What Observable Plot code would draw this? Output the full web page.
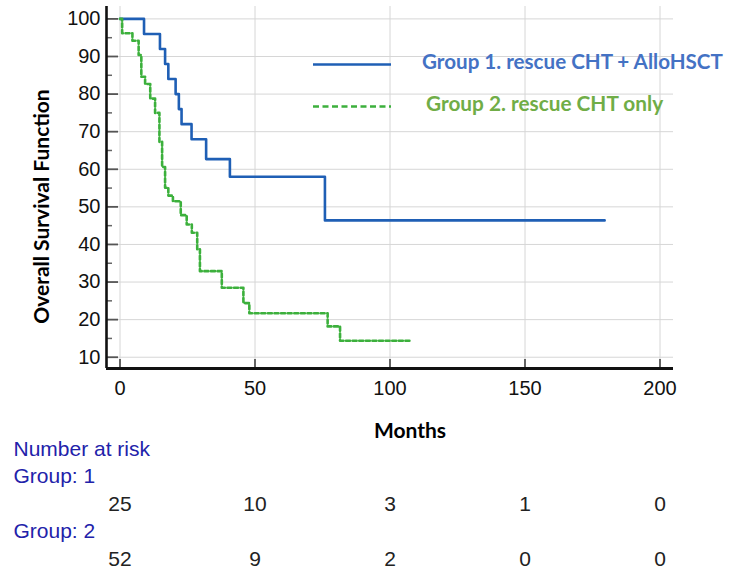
<!DOCTYPE html>
<html><head><meta charset="utf-8">
<script src="https://cdn.jsdelivr.net/npm/d3@7"></script>
<script src="https://cdn.jsdelivr.net/npm/@observablehq/plot@0.6"></script>
<style>
body{margin:0;background:#fff;}
#wrap{position:relative;width:729px;height:580px;}
#legend{position:absolute;left:0;top:0;}
</style></head><body>
<div id="wrap"></div>
<script>
// Group 1: rescue CHT + AlloHSCT (months, survival %)
const g1Time = [0, 8.9, 14.8, 16.7, 17.9, 20.6, 21.8, 22.8, 26.5, 31.9, 40.7, 75.9, 179.5];
const g1Surv = [100, 96, 92, 88, 84, 80, 76, 72, 68, 62.7, 58.0, 46.4, 46.4];
// Group 2: rescue CHT only
const g2Time = [0, 0.8, 4.6, 6.9, 7.9, 9.3, 11.2, 13.0, 14.6, 15.6, 16.7, 17.9, 19.6, 22.5, 24.7, 26.6, 28.6, 29.6, 37.7, 45.7, 47.9, 76.9, 81.5, 108];
const g2Surv = [100, 96.2, 94.2, 90.4, 84.6, 82.7, 78.8, 75.0, 67.3, 60.6, 55.1, 53.0, 51.5, 47.8, 45.3, 43.1, 38.7, 32.9, 28.5, 24.4, 21.7, 18.2, 14.4, 14.4];
// Number at risk
const riskTimes = [0, 50, 100, 150, 200];
const risk1 = [25, 10, 3, 1, 0];
const risk2 = [52, 9, 2, 0, 0];
// Ticks
const xTicks = [0, 50, 100, 150, 200];
const yTicks = [10, 20, 30, 40, 50, 60, 70, 80, 90, 100];
const yMinor = [15, 25, 35, 45, 55, 65, 75, 85, 95];
const legendLabels = ["Group 1. rescue CHT + AlloHSCT", "Group 2. rescue CHT only"];

const W = 729, H = 580, mL = 106, mT = 6, mR = 56, mB = 212;
const fW = W - mL - mR, fH = H - mT - mB;
const xDom = [-5, 205], yDom = [7, 103.3];
const blue = "#1f5fb5", green = "#3cb03c";
const sans = "'Liberation Sans', Arial, sans-serif";
const cal = "Lato, 'Open Sans', sans-serif";

const g1 = g1Time.map((t, i) => ({t, s: g1Surv[i]}));
const g2 = g2Time.map((t, i) => ({t, s: g2Surv[i]}));
const r1 = riskTimes.map((t, i) => ({t, n: risk1[i]}));
const r2 = riskTimes.map((t, i) => ({t, n: risk2[i]}));

const plot = Plot.plot({
  width: W, height: H,
  marginLeft: mL, marginTop: mT, marginRight: mR, marginBottom: mB,
  style: {fontFamily: sans, fontSize: "20px", background: "#fff", color: "#111", overflow: "visible"},
  x: {domain: xDom, label: null},
  y: {domain: yDom, label: null},
  marks: [
    Plot.gridY(yTicks, {stroke: "#d6d6d6", strokeOpacity: 1, strokeWidth: 1}),
    Plot.gridX(xTicks, {stroke: "#d6d6d6", strokeOpacity: 1, strokeWidth: 1}),
    Plot.ruleY(yTicks, {insetRight: fW - 12, stroke: "#555", strokeWidth: 1.8}),
    Plot.ruleY(yMinor, {insetRight: fW - 6, stroke: "#666", strokeWidth: 1.5}),
    Plot.ruleX(xTicks, {insetTop: fH - 9, stroke: "#555", strokeWidth: 1.8}),
    Plot.line(g1, {x: "t", y: "s", curve: "step-after", stroke: blue, strokeWidth: 2.6}),
    Plot.line(g2, {x: "t", y: "s", curve: "step-after", stroke: green, strokeWidth: 2.6, strokeDasharray: "4,2.6"}),
    Plot.ruleX([xDom[0]], {stroke: "#111", strokeWidth: 2.6}),
    Plot.ruleY([yDom[0]], {stroke: "#111", strokeWidth: 2.8}),
    Plot.axisX(xTicks, {tickSize: 0, tickPadding: 12, fontSize: 20, fontFamily: sans, label: null, fill: "#111"}),
    Plot.axisY(yTicks, {tickSize: 0, tickPadding: 6, fontSize: 20, fontFamily: sans, label: null, fill: "#111"}),
    Plot.text(["Overall Survival Function"], {text: d => d, frameAnchor: "left", textAnchor: "middle", rotate: -90, dx: -64, dy: 19, fontFamily: cal, fontWeight: 700, fontSize: 21, fill: "#000"}),
    Plot.text(["Months"], {text: d => d, frameAnchor: "bottom", dx: 20, dy: 69, fontFamily: cal, fontWeight: 700, fontSize: 21, fill: "#000"}),
    Plot.text(["Number at risk"], {text: d => d, frameAnchor: "bottom-left", textAnchor: "start", dx: -93, dy: 87, fontFamily: sans, fontSize: 21, fill: "#2222aa"}),
    Plot.text(["Group: 1"], {text: d => d, frameAnchor: "bottom-left", textAnchor: "start", dx: -93, dy: 114, fontFamily: sans, fontSize: 21, fill: "#2222aa"}),
    Plot.text(["Group: 2"], {text: d => d, frameAnchor: "bottom-left", textAnchor: "start", dx: -93, dy: 169, fontFamily: sans, fontSize: 21, fill: "#2222aa"}),
    Plot.text(r1, {x: "t", text: "n", frameAnchor: "bottom", dy: 142, fontFamily: sans, fontSize: 21, fill: "#222"}),
    Plot.text(r2, {x: "t", text: "n", frameAnchor: "bottom", dy: 197, fontFamily: sans, fontSize: 21, fill: "#222"})
  ]
});
const wrap = document.getElementById("wrap");
wrap.appendChild(plot);

// Legend overlay
const ns = "http://www.w3.org/2000/svg";
const leg = document.createElementNS(ns, "svg");
leg.setAttribute("id", "legend");
leg.setAttribute("width", W); leg.setAttribute("height", 130);
const items = [
  {label: legendLabels[0], stroke: blue, dash: null, text: "#4472c4", ly: 64.5, tx: 422, ty: 68.5, fs: 20.6},
  {label: legendLabels[1], stroke: green, dash: "6,3.5", text: "#70ad47", ly: 106.5, tx: 426, ty: 110.5, fs: 20.8}
];
for (const it of items) {
  const l = document.createElementNS(ns, "line");
  l.setAttribute("x1", 313); l.setAttribute("x2", 391);
  l.setAttribute("y1", it.ly); l.setAttribute("y2", it.ly);
  l.setAttribute("stroke", it.stroke); l.setAttribute("stroke-width", 2.5);
  if (it.dash) l.setAttribute("stroke-dasharray", it.dash);
  leg.appendChild(l);
  const t = document.createElementNS(ns, "text");
  t.setAttribute("x", it.tx); t.setAttribute("y", it.ty);
  t.setAttribute("fill", it.text);
  t.setAttribute("font-family", cal); t.setAttribute("font-weight", 700); t.setAttribute("font-size", it.fs);
  t.textContent = it.label;
  leg.appendChild(t);
}
wrap.appendChild(leg);
</script>
</body></html>
